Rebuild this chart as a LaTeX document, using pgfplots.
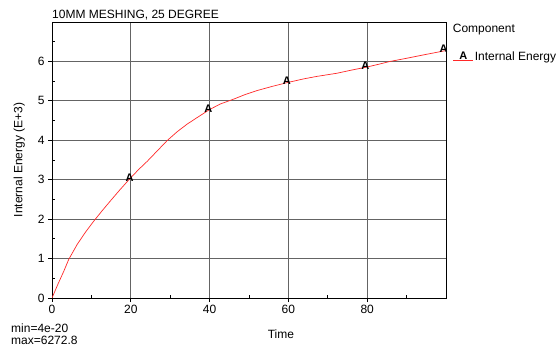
\documentclass[border=0pt]{standalone}
\usepackage{fontspec}
\setmainfont{Liberation Sans}
\usepackage{pgfplots}
\pgfplotsset{compat=1.18}
\definecolor{gridc}{RGB}{100,100,100}
\definecolor{curvered}{RGB}{255,40,40}
\begin{document}
\begin{tikzpicture}[font=\fontsize{12bp}{14bp}\selectfont]
\useasboundingbox (0,0) rectangle (560bp,348bp);
% minor ticks (inside)
\begin{axis}[
  at={(52bp,50bp)}, anchor=south west,
  scale only axis, width=394bp, height=276bp,
  xmin=0, xmax=100, ymin=0, ymax=7,
  axis line style={draw=none},
  xtick={10,30,...,90}, ytick={0.5,1.5,...,6.5},
  xticklabels={}, yticklabels={},
  tick pos=left, tick align=inside, major tick length=3bp,
  tick style={black, line width=0.8bp},
]
\addplot[draw=none] coordinates {(0,0)};
\end{axis}
\begin{axis}[
  at={(52bp,50bp)}, anchor=south west,
  scale only axis, width=394bp, height=276bp,
  xmin=0, xmax=100, ymin=0, ymax=7,
  clip mode=individual,
  xtick={0,20,...,80}, ytick={0,...,6},
  tick pos=left, tick align=outside, major tick length=4bp,
  tick style={black, line width=0.8bp},
  grid=major, major grid style={color=gridc, line width=0.8bp},
  axis line style={black, line width=0.9bp},
  /pgf/number format/assume math mode=true,
  ticklabel style={font=\fontsize{12bp}{14bp}\selectfont},
  xlabel={Time},
  xlabel style={at={(axis description cs:0.581,-0.13)}, anchor=center},
  ylabel={Internal Energy (E+3)},
  ylabel style={at={(axis description cs:-0.083,0.5)}, anchor=center},
  legend style={at={(axis description cs:1.017,0.875)}, anchor=west,
    draw=none, fill=none, inner sep=0pt,
    nodes={inner sep=1bp, font=\fontsize{12bp}{14bp}\selectfont}},
  legend cell align=left,
  legend image code/.code={
    \draw[draw=curvered, line width=0.9bp] (0bp,-4bp) -- (20bp,-4bp);
    \node[black, anchor=south, inner sep=0pt, font=\fontsize{11bp}{12bp}\selectfont\bfseries] at (10bp,-4.5bp) {A};
  },
]
\addplot[color=curvered, line width=0.7bp] coordinates {
(0,0) (1.5,0.35) (3,0.68) (4.25,0.98) (6.4,1.36) (8.5,1.67) (10.6,1.95)
(12.7,2.21) (14.8,2.46) (17.2,2.74) (19.7,3.02) (22,3.26) (24.2,3.47)
(26.7,3.73) (29.2,3.99) (31.8,4.22) (34.3,4.41) (37.2,4.6) (40,4.78)
(42.7,4.92) (46,5.04) (49,5.16) (52,5.26) (56,5.37) (60,5.47) (64,5.56)
(67.2,5.62) (72.3,5.70) (76,5.78) (80,5.86) (83,5.93) (85.8,6.0)
(90,6.08) (95,6.18) (99.7,6.27)
};
\addlegendentry{Internal Energy}
\addplot[only marks, black, mark=text, text mark={A}, text mark as node=true,
  text mark style={font=\fontsize{11bp}{12bp}\selectfont\bfseries, inner sep=0pt, anchor=center},
  forget plot] coordinates {
(19.7,3.06) (39.7,4.8) (59.6,5.5) (79.5,5.9) (99.4,6.32)
};
\node[anchor=base west, inner sep=0pt] at (axis description cs:0,1.0134) {10MM MESHING, 25 DEGREE};
\node[anchor=west, inner sep=0pt] at (axis description cs:1.017,0.971) {Component};
\node[anchor=west, inner sep=0pt] at (axis description cs:-0.104,-0.1087) {min=4e-20};
\node[anchor=west, inner sep=0pt] at (axis description cs:-0.104,-0.152) {max=6272.8};
\end{axis}
\end{tikzpicture}
\end{document}
